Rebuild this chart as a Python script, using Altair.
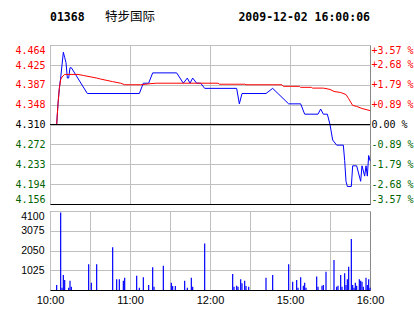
import altair as alt
import pandas as pd

# ---------------- data ----------------
stock_code = "01368"
stock_name = "特步国际"
stamp = "2009-12-02 16:00:06"
prev_close = 4.31

# minutes since 10:00 on a 240-minute trading axis (10:00-12:30, 14:30-16:00)
price_minutes = [0, 5, 6, 7, 8, 10, 11, 12, 13, 14, 15, 16, 28, 67, 70, 74, 77, 95,
                 100, 103, 105, 107, 110, 113, 116, 140, 142, 144, 162, 167, 179,
                 188, 191, 201, 203, 205, 208, 210, 212, 215, 220, 221, 222, 223,
                 226, 227, 230, 233, 234, 236, 237, 238, 239, 240]
price_values = [4.31, 4.31, 4.35, 4.38, 4.40, 4.45, 4.44, 4.43, 4.40, 4.40, 4.42, 4.42, 4.37,
                4.37, 4.39, 4.39, 4.41, 4.41, 4.39, 4.40, 4.39, 4.40, 4.39, 4.39, 4.38,
                4.38, 4.35, 4.37, 4.37, 4.38, 4.35, 4.35, 4.33, 4.33, 4.34, 4.33, 4.33,
                4.31, 4.28, 4.27, 4.27, 4.24, 4.20, 4.19, 4.19, 4.23, 4.23, 4.20, 4.23,
                4.21, 4.23, 4.21, 4.25, 4.24]

avg_minutes = [0, 5, 6, 7, 8, 9, 11, 21, 25, 35, 38, 47, 53, 56, 68, 75, 80, 126, 127,
               146, 147, 174, 175, 187, 188, 196, 197, 205, 210, 213, 218, 222, 224,
               227, 230, 234, 240]
avg_values = [4.31, 4.31, 4.35, 4.38, 4.397, 4.402, 4.407, 4.407, 4.405, 4.400, 4.398,
              4.393, 4.390, 4.387, 4.387, 4.389, 4.390, 4.390, 4.388, 4.388, 4.387,
              4.387, 4.384, 4.384, 4.382, 4.382, 4.3805, 4.3805, 4.378, 4.374, 4.372,
              4.368, 4.360, 4.347, 4.345, 4.341, 4.337]

vol_minutes = [5, 8, 9, 10, 11, 14, 15, 16, 29, 31, 35, 47, 50, 52, 55, 56, 65, 67, 70,
               74, 77, 78, 85, 91, 92, 94, 101, 103, 106, 107, 116, 137, 138, 140, 141,
               143, 144, 146, 147, 149, 162, 167, 179, 182, 185, 186, 188, 190, 191, 192,
               200, 201, 204, 205, 207, 213, 215, 216, 218, 219, 221, 222, 223, 224, 226,
               227, 228, 229, 230, 232, 233, 234, 235, 237, 238, 239, 240]
vol_values = [260, 4020, 120, 780, 520, 120, 480, 170, 1330, 380, 1330, 2215, 555, 555,
              480, 640, 745, 120, 660, 260, 1175, 170, 1265, 380, 210, 210, 480, 120, 640,
              170, 2410, 830, 170, 220, 170, 555, 350, 480, 210, 170, 640, 780, 1330, 430,
              520, 120, 660, 220, 380, 120, 695, 170, 220, 260, 950, 1560, 170, 220, 780,
              170, 870, 260, 555, 1210, 2650, 260, 120, 380, 220, 555, 480, 430, 170, 640,
              260, 555, 120]

price_ticks = [4.156, 4.194, 4.233, 4.272, 4.310, 4.348, 4.387, 4.425, 4.464]
pct_ticks = [-3.57, -2.68, -1.79, -0.89, 0.0, 0.89, 1.79, 2.68, 3.57]
vol_ticks = [1025, 2050, 3075, 4100]
time_ticks = [0, 30, 60, 90, 120, 150, 180, 210, 240]
time_label_pos = [0, 60, 120, 180, 240]
time_label_txt = ["10:00", "11:00", "12:00", "15:00", "16:00"]

# ---------------- styling ----------------
RED = "#ff0000"
GREEN = "#006400"
GRID = "#c0c0c0"
BORDER = "#888888"
MONO = "DejaVu Sans Mono"
SANS = "Liberation Sans"
W = 320

price_df = pd.DataFrame({"m": price_minutes, "p": price_values})
avg_df = pd.DataFrame({"m": avg_minutes, "p": avg_values})
vol_df = pd.DataFrame({"m": vol_minutes, "v": vol_values})

x_scale = alt.Scale(domain=[0, 240], nice=False, zero=False)
grid_x = alt.ExprRef(expr=f"datum.value >= 240 ? 'transparent' : '{GRID}'")

price_scale = alt.Scale(domain=[price_ticks[0], price_ticks[-1]], nice=False, zero=False)
pct_scale = alt.Scale(domain=[pct_ticks[0], pct_ticks[-1]], nice=False, zero=False)

x_price = alt.X("m:Q", scale=x_scale,
                axis=alt.Axis(values=time_ticks, labels=False, ticks=False, domain=True,
                              domainColor="black", domainWidth=1, grid=True,
                              gridColor=grid_x, title=None))

left_axis = alt.Axis(
    values=price_ticks, format=".3f", orient="left", ticks=False, domain=False,
    labelPadding=5, labelFont=MONO, labelFontSize=10, labelFlush=True,
    labelColor=alt.ExprRef(expr=f"datum.value > {prev_close} + 0.0001 ? '{RED}' : "
                                f"(datum.value < {prev_close} - 0.0001 ? '{GREEN}' : 'black')"),
    grid=True,
    gridColor=alt.ExprRef(expr=f"datum.value < {price_ticks[0]} + 0.001 ? 'transparent' : '{GRID}'"),
    title=None)

nbsp = "\u00a0"
right_axis = alt.Axis(
    values=pct_ticks, orient="right", ticks=False, domain=False, grid=False,
    labelPadding=1, labelFont=MONO, labelFontSize=10, labelFlush=True,
    labelExpr=("(datum.value > 0 ? '+' : (datum.value < 0 ? '-' : '" + nbsp + "')) + "
               "format(abs(datum.value), '.2f') + ' %'"),
    labelColor=alt.ExprRef(expr=f"datum.value > 0 ? '{RED}' : (datum.value < 0 ? '{GREEN}' : 'black')"),
    title=None)

blue = alt.Chart(price_df).mark_line(color="#0000ff", strokeWidth=1).encode(
    x=x_price, y=alt.Y("p:Q", scale=price_scale, axis=left_axis))
red = alt.Chart(avg_df).mark_line(color=RED, strokeWidth=1).encode(
    x=alt.X("m:Q", scale=x_scale), y=alt.Y("p:Q", scale=price_scale, axis=None))
zero_rule = alt.Chart(pd.DataFrame({"c": [prev_close]})).mark_rule(color="black", strokeWidth=1).encode(
    y=alt.Y(datum=0.0, type="quantitative", scale=pct_scale, axis=right_axis))

t1 = alt.Chart(pd.DataFrame({"t": [stock_code]})).mark_text(
    align="left", baseline="alphabetic", font=MONO, fontSize=11.5, fontWeight="bold",
    color="black").encode(x=alt.value(0), y=alt.value(-23.8), text="t:N")
t2 = alt.Chart(pd.DataFrame({"t": [stock_name]})).mark_text(
    align="left", baseline="alphabetic", font="Noto Sans CJK SC", fontSize=12.5,
    color="black").encode(x=alt.value(55), y=alt.value(-23.8), text="t:N")
t3 = alt.Chart(pd.DataFrame({"t": [stamp]})).mark_text(
    align="right", baseline="alphabetic", font=MONO, fontSize=11.5, fontWeight="bold",
    color="black").encode(x=alt.value(W), y=alt.value(-23.8), text="t:N")

price_chart = alt.layer(blue, red, zero_rule, t1, t2, t3).resolve_scale(
    y="independent").properties(width=W, height=159)

label_expr = " : ".join(
    f"datum.value == {p} ? '{t}'" for p, t in zip(time_label_pos, time_label_txt)) + " : ''"

vol_chart = alt.Chart(vol_df).mark_rule(color="#0000ff", strokeWidth=1.2).encode(
    x=alt.X("m:Q", scale=x_scale,
            axis=alt.Axis(values=time_ticks, labelExpr=label_expr, ticks=False,
                          domain=True, domainColor="black", domainWidth=1,
                          labelFont=SANS, labelFontSize=11, labelColor="black",
                          labelPadding=4, labelFlush=False, labelOverlap=False,
                          grid=True, gridColor=grid_x, title=None)),
    y=alt.Y("v:Q", scale=alt.Scale(domain=[0, vol_ticks[-1]], nice=False),
            axis=alt.Axis(values=vol_ticks, format="d", orient="left", ticks=False,
                          domain=False, labelFont=SANS, labelFontSize=10.5,
                          labelColor="black", labelPadding=6, labelFlush=True,
                          grid=True, gridColor=GRID, title=None)),
    y2=alt.datum(0),
).properties(width=W, height=79)

chart = alt.vconcat(price_chart, vol_chart, spacing=5).properties(
    padding={"left": 14, "top": 10, "right": 0, "bottom": 0},
    background="white",
).configure_view(stroke=BORDER, strokeWidth=1).configure_axis(gridWidth=1)

chart.save("out.html", embed_options={"renderer": "svg", "actions": False})
